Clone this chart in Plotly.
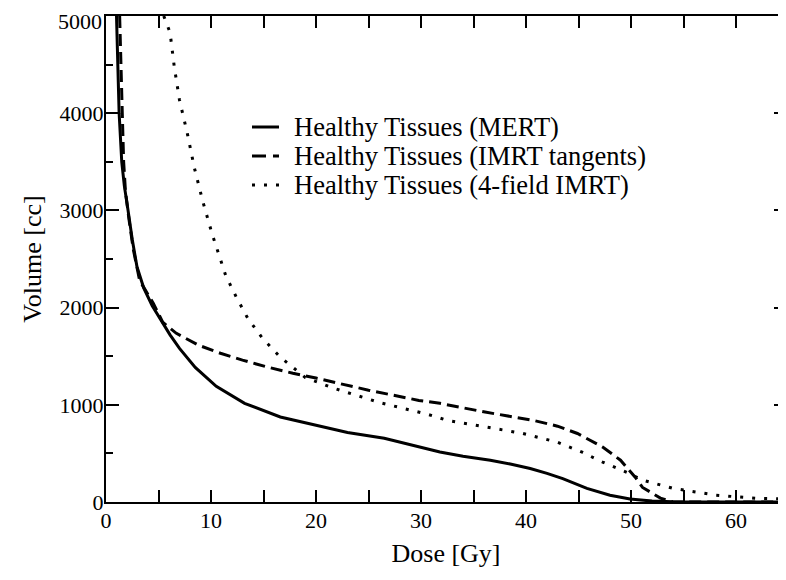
import plotly.graph_objects as go

# Dose [Gy] / Volume [cc]
mert_dose = [1.0, 1.1, 1.25, 1.5, 1.75, 2.1, 2.5, 2.95, 3.6, 4.4, 5.3, 6.1, 7.0, 8.5, 10.5, 13.2,
             16.6, 20.4, 23, 26.5, 30, 31.8, 34, 36.6, 38.5, 40.4, 42, 43.5, 45.8, 48, 49.9, 52,
             54, 66]
mert_vol = [5000, 4500, 4000, 3500, 3250, 3000, 2700, 2420, 2200, 2020, 1860, 1720, 1580, 1385,
            1190, 1015, 875, 780, 715, 655, 560, 515, 470, 430, 390, 345, 295, 240, 140, 70, 30,
            10, 2, 0]

tang_dose = [1.3, 1.4, 1.55, 1.68, 1.85, 2.2, 2.6, 3.2, 4.5, 5.4, 6.7, 8.8, 10.9, 13, 15.3, 17.8,
             20, 25, 29.8, 31.8, 36.1, 40.7, 43, 44.9, 47.3, 49, 50.4, 51.1, 52.8, 54, 66]
tang_vol = [5000, 4500, 4000, 3500, 3200, 2900, 2600, 2280, 2045, 1850, 1735, 1614, 1530, 1460,
            1390, 1325, 1275, 1150, 1045, 1015, 925, 840, 780, 705, 565, 430, 255, 150, 40, 0, 0]

four_dose = [5.5, 6.1, 6.5, 7.0, 7.75, 8.4, 9.2, 10.1, 11.4, 12.4, 13.5, 14.9, 16.6, 17.5, 19,
             21.7, 26, 30.7, 32.5, 36.3, 39.7, 43, 45.4, 47.3, 49.6, 51.1, 54, 58.1, 61.9, 66]
four_vol = [5000, 4830, 4480, 4135, 3790, 3445, 3100, 2760, 2330, 2110, 1890, 1685, 1490, 1410,
            1280, 1170, 1025, 900, 840, 770, 705, 615, 510, 410, 305, 225, 140, 70, 38, 27]

series_names = ["Healthy Tissues (MERT)", "Healthy Tissues (IMRT tangents)",
                "Healthy Tissues (4-field IMRT)"]

x_ticks = [0, 10, 20, 30, 40, 50, 60]
y_ticks = [0, 1000, 2000, 3000, 4000, 5000]

FONT = "Liberation Serif, Times New Roman, serif"
OFF = 8  # page body margin in the browser
W, H = 786 - OFF, 580 - OFF
ML, MR, MT, MB = 106 - OFF, 0, 16 - OFF, 580 - 502
PW, PH = W - ML - MR, H - MT - MB


def px_x(p):  # page pixel -> paper fraction
    return (p - OFF - ML) / PW


def px_y(p):
    return (H - MB - (p - OFF)) / PH


styles = [dict(color="black", width=3),
          dict(color="black", width=3, dash="12px,6px"),
          dict(color="black", width=3, dash="3px,9px")]
legend_dash = [None, "14px,7px", "3px,9px"]

fig = go.Figure()
for xs, ys, nm, st in zip([mert_dose, tang_dose, four_dose], [mert_vol, tang_vol, four_vol],
                          series_names, styles):
    fig.add_trace(go.Scatter(x=xs, y=ys, mode="lines", name=nm, line=st, showlegend=False))

# invisible trace carrying the right-hand tick axis
fig.add_trace(go.Scatter(x=[0], y=[0], yaxis="y2", mode="markers",
                         marker=dict(opacity=0), showlegend=False, hoverinfo="skip"))

# hand-drawn legend (compact rows like the original)
row_y = [127, 156, 185]
for i, nm in enumerate(series_names):
    fig.add_annotation(text=nm, xref="paper", yref="paper", x=px_x(292), y=px_y(row_y[i]),
                       xanchor="left", yanchor="middle", showarrow=False,
                       font=dict(family=FONT, size=26.5, color="black"))
    ln = dict(color="black", width=3)
    if legend_dash[i]:
        ln["dash"] = legend_dash[i]
    fig.add_shape(type="line", xref="paper", yref="paper",
                  x0=px_x(252), x1=px_x(279), y0=px_y(row_y[i]), y1=px_y(row_y[i]), line=ln)

# top tick label drawn slightly lower so it is not clipped by the figure edge
y_ticktext = [str(v) for v in y_ticks]
y_ticktext[-1] = ""
fig.add_annotation(text=str(y_ticks[-1]), xref="paper", yref="y", x=0, y=y_ticks[-1],
                   xanchor="right", yanchor="middle", xshift=-2, yshift=-5, showarrow=False,
                   font=dict(family=FONT, size=22, color="black"))

fig.update_layout(
    width=W, height=H,
    margin=dict(l=ML, r=MR, t=MT, b=MB),
    paper_bgcolor="white", plot_bgcolor="white",
    font=dict(family=FONT, color="black", size=22),
    showlegend=False,
    xaxis=dict(range=[0, 64.76], tickvals=x_ticks, ticktext=[str(v) for v in x_ticks],
               ticks="inside", ticklen=12, tickwidth=2, tickcolor="black",
               showline=True, linewidth=2, linecolor="black", mirror="allticks",
               showgrid=False, zeroline=False, automargin=False, ticklabelstandoff=-2,
               ticklabeloverflow="allow",
               minor=dict(dtick=5, ticks="inside", ticklen=6, tickwidth=2, tickcolor="black",
                          showgrid=False),
               tickfont=dict(family=FONT, size=22),
               title=dict(text="Dose [Gy]", font=dict(family=FONT, size=26), standoff=11)),
    yaxis=dict(range=[0, 5000], tickvals=y_ticks, ticktext=y_ticktext,
               ticks="inside", ticklen=13, tickwidth=2, tickcolor="black",
               showline=True, linewidth=2, linecolor="black", mirror=False,
               showgrid=False, zeroline=False, automargin=False, ticklabelstandoff=-4,
               ticklabeloverflow="allow",
               minor=dict(dtick=500, ticks="inside", ticklen=7, tickwidth=2, tickcolor="black",
                          showgrid=False),
               tickfont=dict(family=FONT, size=22),
               title=dict(text="Volume [cc]", font=dict(family=FONT, size=26), standoff=10)),
    yaxis2=dict(range=[0, 5000], overlaying="y", side="right", tickvals=y_ticks,
                showticklabels=False, ticks="inside", ticklen=12, tickwidth=2,
                tickcolor="black", showline=False, showgrid=False, zeroline=False,
                automargin=False,
                minor=dict(dtick=500, ticks="inside", ticklen=6, tickwidth=2,
                           tickcolor="black", showgrid=False)),
)

fig.write_html("out.html")
